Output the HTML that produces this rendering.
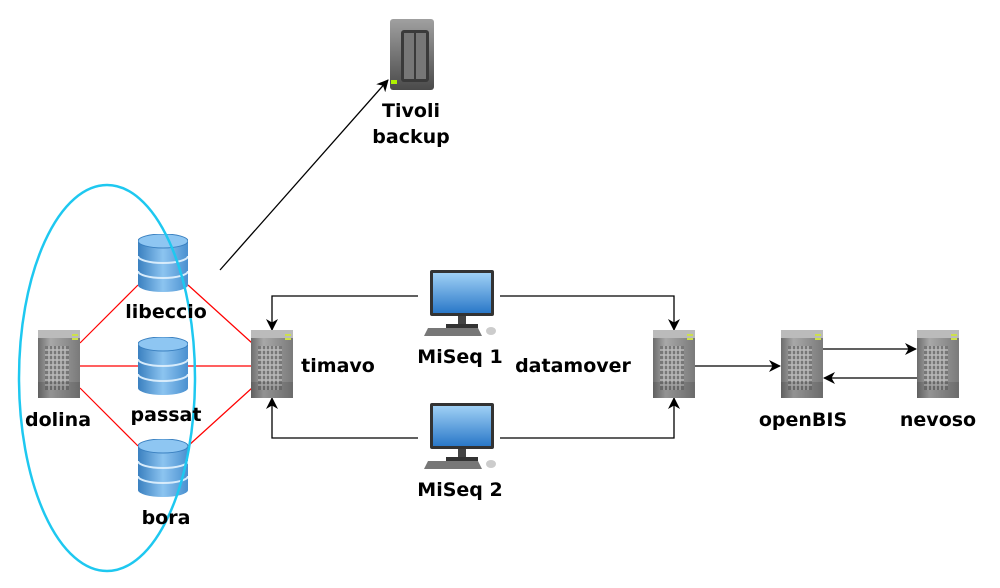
<!DOCTYPE html>
<html><head><meta charset="utf-8"><style>
html,body{margin:0;padding:0;background:#fff;}
svg{display:block}
text{font-family:"DejaVu Sans","Liberation Sans",sans-serif;font-weight:bold;font-size:19px;fill:#000;text-anchor:middle}
</style></head><body>
<svg width="1000" height="588" viewBox="0 0 1000 588" xmlns="http://www.w3.org/2000/svg">
<defs>
<linearGradient id="srv" x1="0" x2="1"><stop offset="0" stop-color="#6d6d6d"/><stop offset="0.3" stop-color="#a8a8a8"/><stop offset="1" stop-color="#7a7a7a"/></linearGradient>
<linearGradient id="db" x1="0" x2="1"><stop offset="0" stop-color="#3a80c0"/><stop offset="0.5" stop-color="#8cc4f0"/><stop offset="1" stop-color="#4a90d0"/></linearGradient>
<linearGradient id="scr" x1="0" y1="0" x2="0" y2="1"><stop offset="0" stop-color="#9fd0f5"/><stop offset="1" stop-color="#2a78c8"/></linearGradient>
<linearGradient id="nas" x1="0" y1="0" x2="0" y2="1"><stop offset="0" stop-color="#a0a0a0"/><stop offset="1" stop-color="#4a4a4a"/></linearGradient>
<marker id="ar" markerWidth="12" markerHeight="12" refX="11" refY="6" orient="auto" markerUnits="userSpaceOnUse"><path d="M0,0 L12,6 L0,12 L3.5,6 z" fill="#000"/></marker>
<symbol id="server" viewBox="0 0 42 68"><rect x="0" y="0" width="42" height="68" fill="url(#srv)"/><rect x="0" y="0" width="42" height="8" fill="#bbb"/><rect x="34" y="4" width="6" height="2" fill="#cde04a"/><rect x="34" y="8" width="6" height="2" fill="#cde04a"/><rect x="7" y="16" width="24" height="44" fill="#777"/><path d="M7,20h24M7,25h24M7,30h24M7,35h24M7,40h24M7,45h24M7,50h24M7,55h24M11,16v44M15,16v44M19,16v44M23,16v44M27,16v44" stroke="#bbb" stroke-width="1.5"/><rect x="0" y="52" width="42" height="16" fill="#000" opacity="0.12"/></symbol>
<symbol id="dbs" viewBox="0 0 50 58"><path d="M0,7 v44 a25,7 0 0 0 50,0 v-44z" fill="url(#db)"/><ellipse cx="25" cy="7" rx="25" ry="7" fill="#8ec6f2" stroke="#3a80c0"/><path d="M0,22 a25,7 0 0 0 50,0 M0,37 a25,7 0 0 0 50,0" stroke="#d8ecfb" stroke-width="2" fill="none"/></symbol>
<symbol id="mon" viewBox="0 0 80 66"><rect x="10" y="0" width="64" height="46" rx="2" fill="#333"/><rect x="13" y="3" width="58" height="40" fill="url(#scr)"/><rect x="38" y="46" width="8" height="8" fill="#444"/><rect x="26" y="54" width="32" height="4" fill="#333"/><path d="M8,58 h50 l4,8 h-58z" fill="#777"/><ellipse cx="71" cy="61" rx="5" ry="4" fill="#ccc"/></symbol>
</defs>

<g stroke="#f00" stroke-width="1.2">
<line x1="80" y1="343" x2="138" y2="285"/><line x1="188" y1="285" x2="252" y2="343"/>
<line x1="80" y1="366" x2="138" y2="366"/><line x1="188" y1="366" x2="252" y2="366"/>
<line x1="80" y1="388" x2="138" y2="446"/><line x1="188" y1="446" x2="252" y2="388"/>
</g>

<g stroke="#000" stroke-width="1.3" fill="none" marker-end="url(#ar)">
<line x1="220" y1="270" x2="388" y2="80"/>
<polyline points="418,296 272,296 272,330"/>
<polyline points="500,296 674,296 674,330"/>
<polyline points="418,438 272,438 272,398"/>
<polyline points="500,438 674,438 674,398"/>
<line x1="694" y1="366" x2="780" y2="366"/>
<line x1="822" y1="349" x2="916" y2="349"/>
<line x1="918" y1="378" x2="824" y2="378"/>
</g>

<use href="#server" x="38" y="330" width="42" height="68"/>
<use href="#server" x="251" y="330" width="42" height="68"/>
<use href="#server" x="653" y="330" width="42" height="68"/>
<use href="#server" x="781" y="330" width="42" height="68"/>
<use href="#server" x="917" y="330" width="42" height="68"/>

<use href="#dbs" x="138" y="234" width="50" height="58"/>
<use href="#dbs" x="138" y="337" width="50" height="58"/>
<use href="#dbs" x="138" y="439" width="50" height="58"/>

<ellipse cx="107" cy="378" rx="88" ry="193" fill="none" stroke="#1ec8f0" stroke-width="2.5"/>

<use href="#mon" x="420" y="270" width="80" height="66"/>
<use href="#mon" x="420" y="403" width="80" height="66"/>

<rect x="390" y="19" width="44" height="71" rx="3" fill="url(#nas)"/>
<rect x="401" y="30" width="28" height="52" rx="3" fill="#3a3a3a"/>
<rect x="404" y="33" width="10" height="46" fill="#777"/><rect x="416" y="33" width="10" height="46" fill="#777"/>
<rect x="391" y="80" width="6" height="4" fill="#aef000"/>

<text x="411" y="117">Tivoli</text>
<text x="411" y="143">backup</text>
<text x="166" y="318">libeccio</text>
<text x="166" y="421">passat</text>
<text x="166" y="524">bora</text>
<text x="58" y="426">dolina</text>
<text x="338" y="372">timavo</text>
<text x="460" y="363">MiSeq 1</text>
<text x="460" y="496">MiSeq 2</text>
<text x="573" y="372">datamover</text>
<text x="803" y="426">openBIS</text>
<text x="938" y="426">nevoso</text>
</svg>
</body></html>
